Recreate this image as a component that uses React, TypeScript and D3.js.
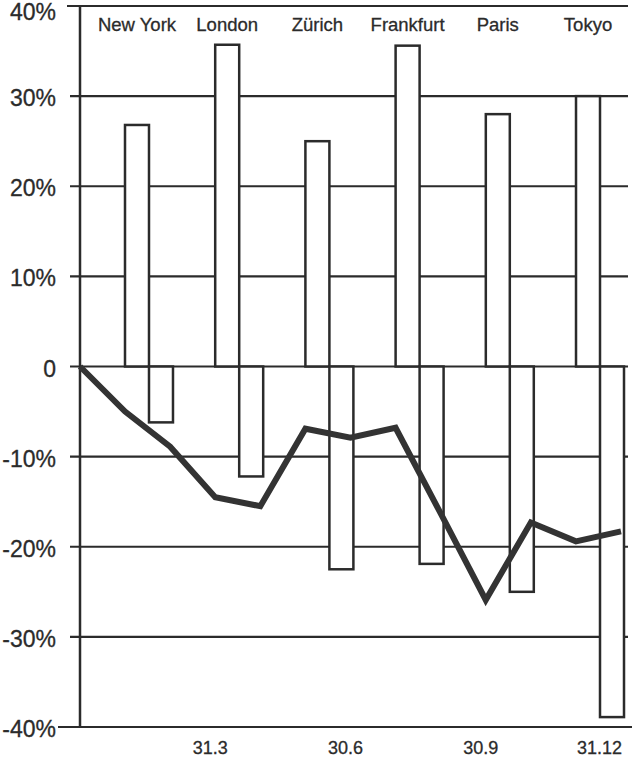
import React from "react";
import * as d3 from "d3";

const cities = ["New York", "London", "Zürich", "Frankfurt", "Paris", "Tokyo"];
const highs = [26.8, 35.7, 25.0, 35.6, 28.0, 30.0];
const lows = [-6.2, -12.2, -22.5, -21.9, -25.0, -38.9];
const months = [0, 1, 2, 3, 4, 5, 6, 7, 8, 9, 10, 11, 12];
const index = [0, -5.0, -8.9, -14.5, -15.5, -6.9, -7.9, -6.8, -16.3, -25.9, -17.3, -19.4, -18.3];
const yTicks = [40, 30, 20, 10, 0, -10, -20, -30, -40];
const monthTicks = [3, 6, 9, 12];
const monthLabels = ["31.3", "30.6", "30.9", "31.12"];

const W = 634;
const H = 759;
const ink = "#2b2b2b";
const font = "'Liberation Sans', Arial, Helvetica, sans-serif";

export default function App() {
  const y = d3.scaleLinear().domain([-40, 40]).range([727, 6]);
  const xLine = d3.scaleLinear().domain([0, 12]).range([80, 621]);
  const xBand = d3
    .scaleBand<string>()
    .domain(cities)
    .range([125, 624])
    .paddingInner(0.468)
    .paddingOuter(0);
  const bw = xBand.bandwidth() / 2;

  const line = d3
    .line<number>()
    .x((_, i) => xLine(months[i]))
    .y((d) => y(d));

  const fmt = (v: number) => (v === 0 ? "0" : `${v}%`);

  return (
    <svg
      width={W}
      height={H}
      style={{ position: "absolute", left: 0, top: 0, background: "#fff" }}
      fontFamily={font}
    >
      {/* grid lines */}
      {yTicks.map((t) => {
        const x1 = t === 40 ? 67 : t === -40 ? 58 : 70;
        const x2 = t === -40 ? 632 : 628;
        return (
          <line
            key={t}
            x1={x1}
            x2={x2}
            y1={y(t)}
            y2={y(t)}
            stroke={ink}
            strokeWidth={2.2}
          />
        );
      })}
      {/* y axis */}
      <line x1={80} x2={80} y1={y(40)} y2={y(-40)} stroke={ink} strokeWidth={2.5} />
      {/* y labels */}
      {yTicks.map((t) => (
        <text
          key={t}
          x={56}
          y={t === 40 ? 12 : y(t) + 2}
          textAnchor="end"
          dominantBaseline="central"
          fontSize={23}
          fill={ink}
          stroke={ink}
          strokeWidth={0.3}
        >
          {fmt(t)}
        </text>
      ))}
      {/* bars */}
      {cities.map((c, i) => {
        const x0 = xBand(c)!;
        return (
          <g key={c}>
            <rect
              x={x0}
              y={y(highs[i])}
              width={bw}
              height={y(0) - y(highs[i])}
              fill="#fff"
              stroke={ink}
              strokeWidth={2.5}
            />
            <rect
              x={x0 + bw}
              y={y(0)}
              width={bw}
              height={y(lows[i]) - y(0)}
              fill="#fff"
              stroke={ink}
              strokeWidth={2.5}
            />
            <text
              x={x0 + bw / 2}
              y={31}
              textAnchor="middle"
              fontSize={18.5}
              fill={ink}
              stroke={ink}
              strokeWidth={0.3}
            >
              {c}
            </text>
          </g>
        );
      })}
      {/* line */}
      <path
        d={line(index) || ""}
        fill="none"
        stroke="#333"
        strokeWidth={6}
        strokeLinejoin="miter"
      />
      {/* x labels */}
      {monthTicks.map((m, i) => (
        <text
          key={m}
          x={i === monthTicks.length - 1 ? xLine(m) + 1 : xLine(m) - 5}
          y={754}
          textAnchor={i === monthTicks.length - 1 ? "end" : "middle"}
          fontSize={18}
          fill={ink}
          stroke={ink}
          strokeWidth={0.3}
        >
          {monthLabels[i]}
        </text>
      ))}
    </svg>
  );
}
